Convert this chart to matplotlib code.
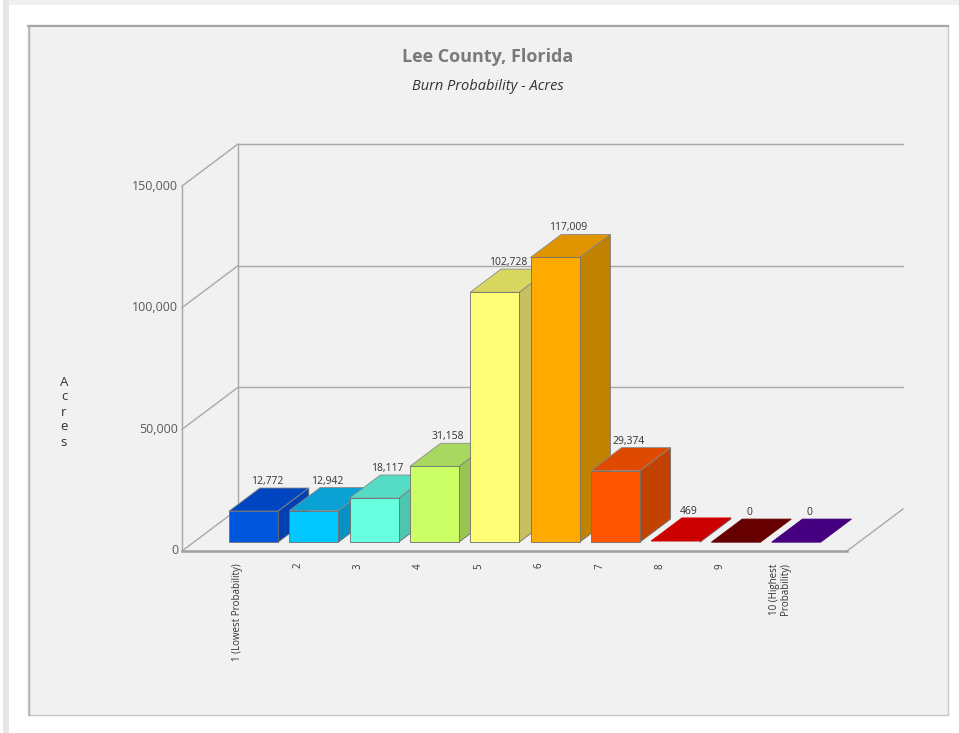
import matplotlib
matplotlib.use('Agg')
import matplotlib.pyplot as plt
from matplotlib.patches import Polygon, Rectangle

# chart values
categories = ['1 (Lowest Probability)', '2', '3', '4', '5', '6', '7', '8', '9',
              '10 (Highest\nProbability)']
acres = [12772, 12942, 18117, 31158, 102728, 117009, 29374, 469, 0, 0]
y_ticks = [0, 50000, 100000, 150000]

front_colors = ['#0055dd', '#00c8ff', '#66ffe0', '#ccff66', '#ffff77',
                '#ffaa00', '#ff5500', '#cc0000', '#660000', '#440080']
top_colors = ['#0046c0', '#0aa2d4', '#55dcc4', '#a8d860', '#d8d860',
              '#e09400', '#e04a00', '#cc0000', '#660000', '#440080']
side_colors = ['#0040b0', '#0892c4', '#4cc6ae', '#9ac452', '#c8c060',
               '#c08200', '#c24200', '#aa0000', '#550000', '#380070']

plt.rcParams['font.family'] = ['Open Sans', 'DejaVu Sans']

W, H = 959, 733
fig = plt.figure(figsize=(W / 100, H / 100), dpi=100)
fig.patch.set_facecolor('white')

# page card + chart panel (figure pixel coords)
def fig_rect(x0, y0, x1, y1, **kw):
    fig.patches.append(Rectangle((x0 / W, 1 - y1 / H), (x1 - x0) / W, (y1 - y0) / H,
                                 transform=fig.transFigure, zorder=-5, **kw))

fig_rect(3, 0, 9, H, facecolor='#e6e6e6', edgecolor='none')
fig_rect(9, 0, W, 5, facecolor='#f0f0f0', edgecolor='none')
fig_rect(28, 25, 948, 715, facecolor='#f1f1f1', edgecolor='#c8c8c8', linewidth=1.0)
fig.lines.append(plt.Line2D([28 / W, 948 / W], [1 - 25.5 / H, 1 - 25.5 / H],
                            transform=fig.transFigure, color='#a6a6a6', lw=1.5, zorder=-4))
fig.lines.append(plt.Line2D([28.5 / W, 28.5 / W], [1 - 25 / H, 1 - 715 / H],
                            transform=fig.transFigure, color='#b0b0b0', lw=1.0, zorder=-4))

# pseudo-3D axes: x = category index, y = acres
X_PX0, X_STEP = 253.5, 60.3       # pixel of category 0 centre, px per category
Y_PX0, PX_PER_ACRE = 551, 2.433 / 1000
ax = fig.add_axes([0, 0, 1, 1])
ax.set_zorder(5)
ax.set_xlim(-X_PX0 / X_STEP, (W - X_PX0) / X_STEP)
ax.set_ylim((Y_PX0 - H) / PX_PER_ACRE, Y_PX0 / PX_PER_ACRE)
ax.axis('off')

DX = 56 / X_STEP                  # depth offset in category units
DV = 42 / PX_PER_ACRE             # depth offset in acres
x_left = (182 - X_PX0) / X_STEP
x_right = (847 - X_PX0) / X_STEP
v_top = 150000

def proj(x, v, z):
    return (x + z * DX, v + z * DV)

grid = dict(color='#a8a8a8', lw=1.0, zorder=1)

# floor
floor = [proj(x_left, 0, 0), proj(x_right, 0, 0), proj(x_right, 0, 1), proj(x_left, 0, 1)]
ax.add_patch(Polygon(floor, closed=True, facecolor='#f1f1f1', edgecolor='none', zorder=0))
fx, fy = zip(*[proj(x_right, 0, 0), proj(x_right, 0, 1)])
ax.plot(fx, fy, **grid)
fx, fy = zip(*[proj(x_left, 0, 0), proj(x_right, 0, 0)])
ax.plot(fx, fy, color='#a0a0a0', lw=1.8, zorder=1)

# walls and gridlines
for t in y_ticks:
    sx, sy = zip(*[proj(x_left, t, 0), proj(x_left, t, 1)])
    ax.plot(sx, sy, **grid)
    if t > 0:
        bx, by = zip(*[proj(x_left, t, 1), proj(x_right, t, 1)])
        ax.plot(bx, by, **grid)
    ax.text(x_left - 4 / X_STEP, t, f'{t:,}', ha='right', va='center',
            fontsize=9, color='#5a5a5a')
vx, vy = zip(*[proj(x_left, 0, 0), proj(x_left, v_top, 0)])
ax.plot(vx, vy, **grid)
vx, vy = zip(*[proj(x_left, 0, 1), proj(x_left, v_top, 1)])
ax.plot(vx, vy, **grid)

# bars
ZF, BD, BW = 0.21, 0.55, 49 / X_STEP
edge = dict(edgecolor='#6f6f6f', linewidth=0.6)
for i, val in enumerate(acres):
    c = i - ZF * DX
    x0, x1 = c - BW / 2, c + BW / 2
    z0, z1 = ZF, ZF + BD
    side = [proj(x1, 0, z0), proj(x1, 0, z1), proj(x1, val, z1), proj(x1, val, z0)]
    top = [proj(x0, val, z0), proj(x1, val, z0), proj(x1, val, z1), proj(x0, val, z1)]
    front = [proj(x0, 0, z0), proj(x1, 0, z0), proj(x1, val, z0), proj(x0, val, z0)]
    zo = 3 + i
    if val > 0:
        ax.add_patch(Polygon(side, closed=True, facecolor=side_colors[i], zorder=zo, **edge))
    ax.add_patch(Polygon(top, closed=True, facecolor=top_colors[i], zorder=zo,
                         edgecolor='#8a8a8a' if val > 1000 else top_colors[i], linewidth=0.6))
    if val > 1000:
        ax.add_patch(Polygon(front, closed=True, facecolor=front_colors[i], zorder=zo, **edge))
    lx, ly = proj(c, val, ZF + BD / 2)
    ax.text(lx - 2 / X_STEP, proj(c, val, z1)[1] + 1 / PX_PER_ACRE, f'{val:,}',
            ha='center', va='bottom', fontsize=7.5, color='#333333', zorder=20)
    ax.text(c - 4 / X_STEP, -12 / PX_PER_ACRE, categories[i], rotation=90,
            ha='center', va='top', fontsize=7, color='#333333',
            multialignment='left', linespacing=1.0)

# titles and axis label
fig.text(488 / W, 1 - 57 / H, 'Lee County, Florida', ha='center', va='center',
         fontsize=13, fontweight='bold', color='#7a7a7a')
fig.text(488 / W, 1 - 87 / H, 'Burn Probability - Acres', ha='center', va='center',
         fontsize=10.5, style='italic', color='#333333')
fig.text(64 / W, 1 - 412 / H, 'A\nc\nr\ne\ns', ha='center', va='center',
         fontsize=9.5, color='#333333', linespacing=1.2)

fig.savefig('out.png', dpi=100, facecolor=fig.get_facecolor())
